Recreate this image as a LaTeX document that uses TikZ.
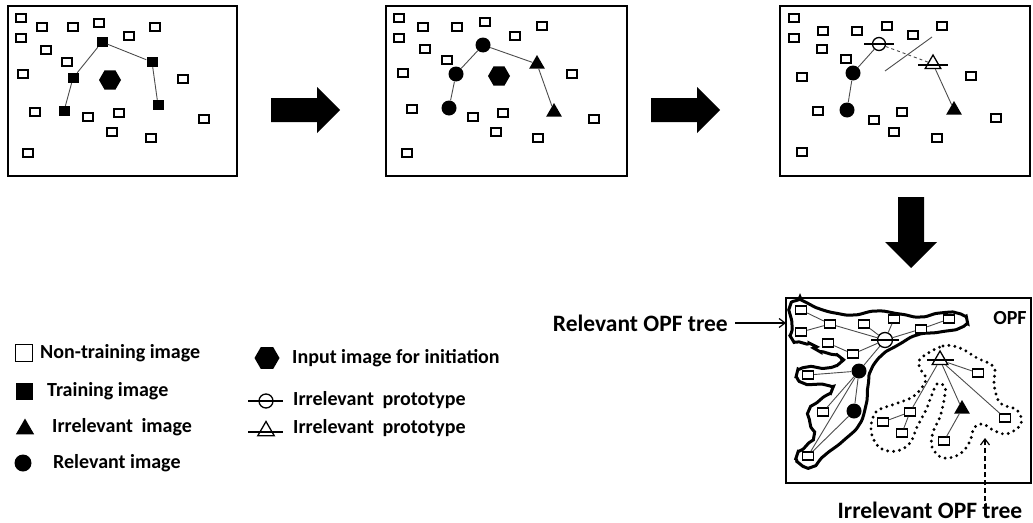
\documentclass[tikz,border=0pt]{standalone}
\usepackage{fontspec}
\setmainfont{Carlito}
\usetikzlibrary{arrows.meta,positioning,shapes.geometric}

\begin{document}
\begin{tikzpicture}[
    x=1pt, y=-1pt,
    frame/.style={draw, line width=2.2pt},
    nt/.style={draw, line width=1.6pt, minimum width=10pt, minimum height=7.5pt, inner sep=0pt},
    trn/.style={fill, minimum width=11pt, minimum height=10pt, inner sep=0pt},
    rel/.style={circle, fill, minimum size=15pt, inner sep=0pt},
    irr/.style={regular polygon, regular polygon sides=3, fill, minimum size=18pt, inner sep=0pt},
    hexa/.style={regular polygon, regular polygon sides=6, fill, minimum size=22pt, inner sep=0pt},
    pcirc/.style={circle, draw, fill=white, line width=1.3pt, minimum size=13pt, inner sep=0pt},
    ptri/.style={regular polygon, regular polygon sides=3, draw, fill=white, line width=1.3pt, minimum size=18pt, inner sep=0pt},
    link/.style={draw=black!70, line width=0.9pt},
    bar/.style={line width=1.3pt},
    lbl/.style={font=\fontsize{20}{22}\selectfont\bfseries, anchor=west, inner sep=0pt},
    treelbl/.style={font=\fontsize{23.5}{26}\selectfont\bfseries, inner sep=0pt},
]
\useasboundingbox (0,0) rectangle (1033,522);

% panel 1: training set
\draw[frame] (8,6) rectangle (237,176);
\foreach \x/\y [count=\i] in {21/18,42/27,73/27,99/23,129/36,155/27,21/38,46/50,67/62,23/74,
    183/79,35/112,88/117,119/113,112/132,151/138,204/119,28/153}
  \node[nt] (a\i) at (\x,\y) {};
\node[hexa] (ahex) at (110,80) {};
\foreach \x/\y [count=\i] in {64/111,73/78,102/42,152/62,158/105}
  \node[trn] (at\i) at (\x,\y) {};
\draw[link] (at1) -- (at2) -- (at3) -- (at4) -- (at5);

% panel 2: labelled by the user
\draw[frame] (386,6) rectangle (627,176);
\foreach \x/\y [count=\i] in {399/18,423/27,457/27,485/22,515/36,542/26,399/38,425/49,447/60,403/73,
    572/74,412/109,473/117,503/113,496/132,538/138,594/119,407/153}
  \node[nt] (b\i) at (\x,\y) {};
\node[hexa] (bhex) at (499,76) {};
\node[rel] (br1) at (449,108) {};
\node[rel] (br2) at (456,74) {};
\node[rel] (br3) at (483,45) {};
\node[irr] (bi1) at (537,64) {};
\node[irr] (bi2) at (554,112) {};
\draw[link] (br1) -- (br2) -- (br3) -- (bi1) -- (bi2);

% panel 3: prototypes
\draw[frame] (780,6) rectangle (1030,176);
\foreach \x/\y [count=\i] in {794/18,823/31,857/31,887/26,913/35,942/26,794/38,822/49,846/59,802/77,
    971/76,818/111,874/120,902/112,894/132,937/138,996/118,802/152}
  \node[nt] (c\i) at (\x,\y) {};
\node[rel] (cr1) at (847,110) {};
\node[rel] (cr2) at (853,73) {};
\node[irr] (ci1) at (954,110) {};
\node[pcirc] (cp1) at (879,44) {};
\node[ptri] (cp2) at (933,64) {};
\draw[link] (cr1) -- (cr2) -- (cp1);
\draw[link, dashed] (cp1) -- (cp2);
\draw[link] (cp2) -- (ci1);
\draw[bar] ([xshift=-15pt]cp1.center) -- ([xshift=15pt]cp1.center);
\draw[bar] ([xshift=-15pt, yshift=-1pt]cp2.center) -- ([xshift=15pt, yshift=-1pt]cp2.center);
\coordinate (cutA) at (885,71);
\coordinate (cutB) at (932,37);
\draw[link] (cutA) -- (cutB);

% big arrows
\foreach \dx in {0,380}
  \fill[shift={(\dx,0)}] (271,98) -- (317,98) -- (317,87) -- (340,110) -- (317,133) -- (317,122) -- (271,122) -- cycle;
\fill (898,197) -- (924,197) -- (924,242) -- (937,242) -- (911,268) -- (885,242) -- (898,242) -- cycle;

% panel 4: OPF trees
\draw[frame] (786,298) rectangle (1031,483);
\node[treelbl, font=\fontsize{20}{22}\selectfont\bfseries] (opf) at (1010,318) {OPF};
\draw[line width=3pt, rounded corners] plot[smooth cycle, tension=0.6] coordinates {
  (790,306) (800,301) (820,309) (835,313) (853,315) (877,311) (900,314) (920,317) (940,313)
  (957,313) (967,320) (960,328) (940,332) (917,335) (898,345) (882,355) (871,370) (868,386)
  (866,405) (859,425) (843,441) (825,455) (812,467) (800,464) (797,455) (806,446) (814,436)
  (810,423) (809,410) (820,400) (832,390) (826,385) (803,383) (797,373) (807,367) (827,368)
  (840,363) (840,357) (827,353) (817,350) (813,345) (803,343) (792,339) (792,325)};
\draw[line width=3.2pt, dash pattern=on 0pt off 6pt, line cap=round] plot[smooth cycle, tension=0.6] coordinates {
  (920,359) (943,346) (960,348) (977,358) (994,367) (994,384) (1000,403) (1017,410) (1021,424)
  (1007,434) (993,430) (983,424) (974,428) (970,441) (960,454) (943,458) (932,447) (933,432)
  (940,417) (944,400) (945,387) (937,384) (931,397) (926,410) (917,427) (910,443) (897,451)
  (880,448) (871,431) (876,412) (895,404) (914,396) (926,380) (921,370)};
\foreach \x/\y [count=\i] in {801/310,830/324,864/324,894/319,921/329,949/319,801/332,828/343,
    853/354,808/375,823/412,808/456}
  \node[nt, line width=1.3pt, minimum width=11pt, minimum height=8pt, fill=white] (r\i) at (\x,\y) {};
\foreach \x/\y [count=\i] in {978/373,910/412,883/422,902/433,944/441,1005/418}
  \node[nt, line width=1.3pt, minimum width=11pt, minimum height=8pt, fill=white] (q\i) at (\x,\y) {};
\node[pcirc, minimum size=15pt] (rp) at (885,340) {};
\node[rel] (rr1) at (859,371) {};
\node[rel] (rr2) at (854,411) {};
\node[ptri] (ip) at (940,360) {};
\node[irr] (ii1) at (962,409) {};
\draw[link] (r1) -- (r2);
\draw[link] (r7) -- (r2);
\draw[link] (r2) -- (rp);
\draw[link] (r3) -- (rp);
\draw[link] (r4) -- (rp);
\draw[link] (rp) -- (r5);
\draw[link] (r5) -- (r6);
\draw[link] (r8) -- (r9);
\draw[link] (r9) -- (rp);
\draw[link] (rr1) -- (rp);
\draw[link] (r10) -- (rr1);
\draw[link] (rr1) -- (rr2);
\draw[link] (r11) -- (rr1);
\draw[link] (r12) -- (rr2);
\draw[link] (r12) -- (rr1);
\draw[bar] ([xshift=-6pt]rp.west) -- ([xshift=6pt]rp.east);
\draw[link] (ip) -- (q1);
\draw[link] (ip) -- (q2);
\draw[link] (ip) -- (ii1);
\draw[link] (ip) -- (q6);
\draw[link] (q2) -- (q3);
\draw[link] (q2) -- (q4);
\draw[link] (ii1) -- (q5);
\draw[bar] ([xshift=-13pt]ip.center) -- ([xshift=14pt]ip.center);

% tree labels
\node[treelbl, anchor=east] (rellbl) at (728,323) {Relevant OPF tree};
\coordinate (relin) at (786,323);
\draw[line width=1.2pt, -{Straight Barb[length=6pt, width=9pt]}] ([xshift=7pt]rellbl.east) -- (relin);
\node[treelbl] (irrlbl) at (930,510) {Irrelevant OPF tree};
\coordinate (irrtip) at (985,438);
\draw[line width=1.2pt, dash pattern=on 5pt off 3pt, -{Straight Barb[length=6pt, width=9pt]}] ([yshift=-8pt]irrlbl.north -| irrtip) -- (irrtip);

% legend
\node[nt, line width=1.2pt, minimum size=17pt] (lg1) at (24,353) {};
\node[lbl] (lt1) at (40,353) {Non-training image};
\node[trn, minimum size=17pt] (lg2) at (24,391) {};
\node[lbl] (lt2) at (47,391) {Training image};
\node[irr, minimum size=21pt] (lg3) at (25,429) {};
\node[lbl] (lt3) at (52,427) {Irrelevant\hspace{0.2em} image};
\node[rel, minimum size=17pt] (lg4) at (23,463) {};
\node[lbl] (lt4) at (53,463) {Relevant image};
\node[hexa, minimum size=25pt] (lg5) at (267,358) {};
\node[lbl] (lt5) at (292,358) {Input image for initiation};
\node[pcirc, minimum size=14pt] (lg6) at (266,401) {};
\draw[bar] ([xshift=-18pt]lg6.center) -- ([xshift=17pt]lg6.center);
\node[lbl] (lt6) at (293,400) {Irrelevant\hspace{0.2em} prototype};
\node[ptri, minimum size=19pt] (lg7) at (266,431) {};
\draw[bar] ([xshift=-18pt, yshift=-1pt]lg7.center) -- ([xshift=17pt, yshift=-1pt]lg7.center);
\node[lbl] (lt7) at (293,428) {Irrelevant\hspace{0.2em} prototype};
\end{tikzpicture}
\end{document}
